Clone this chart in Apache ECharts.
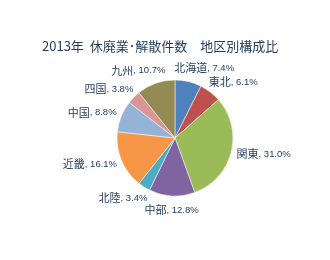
<!DOCTYPE html>
<html>
<head>
<meta charset="utf-8">
<script src="https://cdn.jsdelivr.net/npm/echarts@6/dist/echarts.min.js"></script>
<style>
  html, body { margin: 0; padding: 0; background: #fff; }
  #chart { width: 330px; height: 260px; }
</style>
</head>
<body>
<div id="chart"></div>
<script>
  // 地区別構成比 (%)
  var regions = ['北海道', '東北', '関東', '中部', '北陸', '近畿', '中国', '四国', '九州'];
  var shares = [7.4, 6.1, 31.0, 12.8, 3.4, 16.1, 8.8, 3.8, 10.7];
  var colors = ['#4f81bd', '#c0504d', '#9bbb59', '#8064a2', '#4bacc6', '#f79646', '#95b3d7', '#d99694', '#948a54'];

  var cx = 175, cy = 138, R = 58;

  // mid angle of each slice, clockwise from 12 o'clock (radians)
  var total = shares.reduce(function (a, b) { return a + b; }, 0);
  var midAngles = [];
  var acc = 0;
  shares.forEach(function (v) {
    midAngles.push((acc + v / 2) / total * Math.PI * 2);
    acc += v;
  });

  function soft(v) {
    if (Math.abs(v) < 0.1) return 0;
    return (v < 0 ? -1 : 1) * Math.sqrt(Math.abs(v));
  }

  var chart = echarts.init(document.getElementById('chart'));
  chart.setOption({
    animation: false,
    title: {
      text: '2013年  休廃業･解散件数　地区別構成比',
      left: 37,
      top: 35,
      textStyle: {
        fontFamily: 'Noto Sans CJK JP',
        fontSize: 13,
        fontWeight: 'normal',
        color: '#1f3a5a'
      }
    },
    color: colors,
    series: [
      {
        type: 'pie',
        center: [cx, cy],
        radius: R,
        startAngle: 90,
        clockwise: true,
        label: {
          show: true,
          position: 'outside',
          overflow: 'none',
          formatter: function (p) {
            return '{n|' + p.name + '}{v|, ' + p.value.toFixed(1) + '%}';
          },
          color: '#1f3a5a',
          rich: {
            n: { fontFamily: 'Noto Sans CJK JP', fontSize: 11, color: '#1f3a5a' },
            v: { fontFamily: '"Liberation Sans Narrow", "Liberation Sans", sans-serif', fontSize: 9.5, color: '#1f3a5a' }
          }
        },
        labelLine: { show: false },
        // Excel-like placement: label box sits just outside the slice along its mid angle
        labelLayout: function (params) {
          var a = midAngles[params.dataIndex];
          var s = Math.sin(a), c = Math.cos(a);
          var w = params.labelRect.width, g = 6;
          return {
            x: cx + (R + g) * s + (w / 2) * soft(s),
            y: cy - (R + g) * c - 8 * c * Math.abs(c),
            align: 'center',
            verticalAlign: 'middle'
          };
        },
        itemStyle: { borderColor: '#fff', borderWidth: 0.5 },
        data: regions.map(function (r, i) {
          return { name: r, value: shares[i] };
        })
      }
    ]
  });
</script>
</body>
</html>
